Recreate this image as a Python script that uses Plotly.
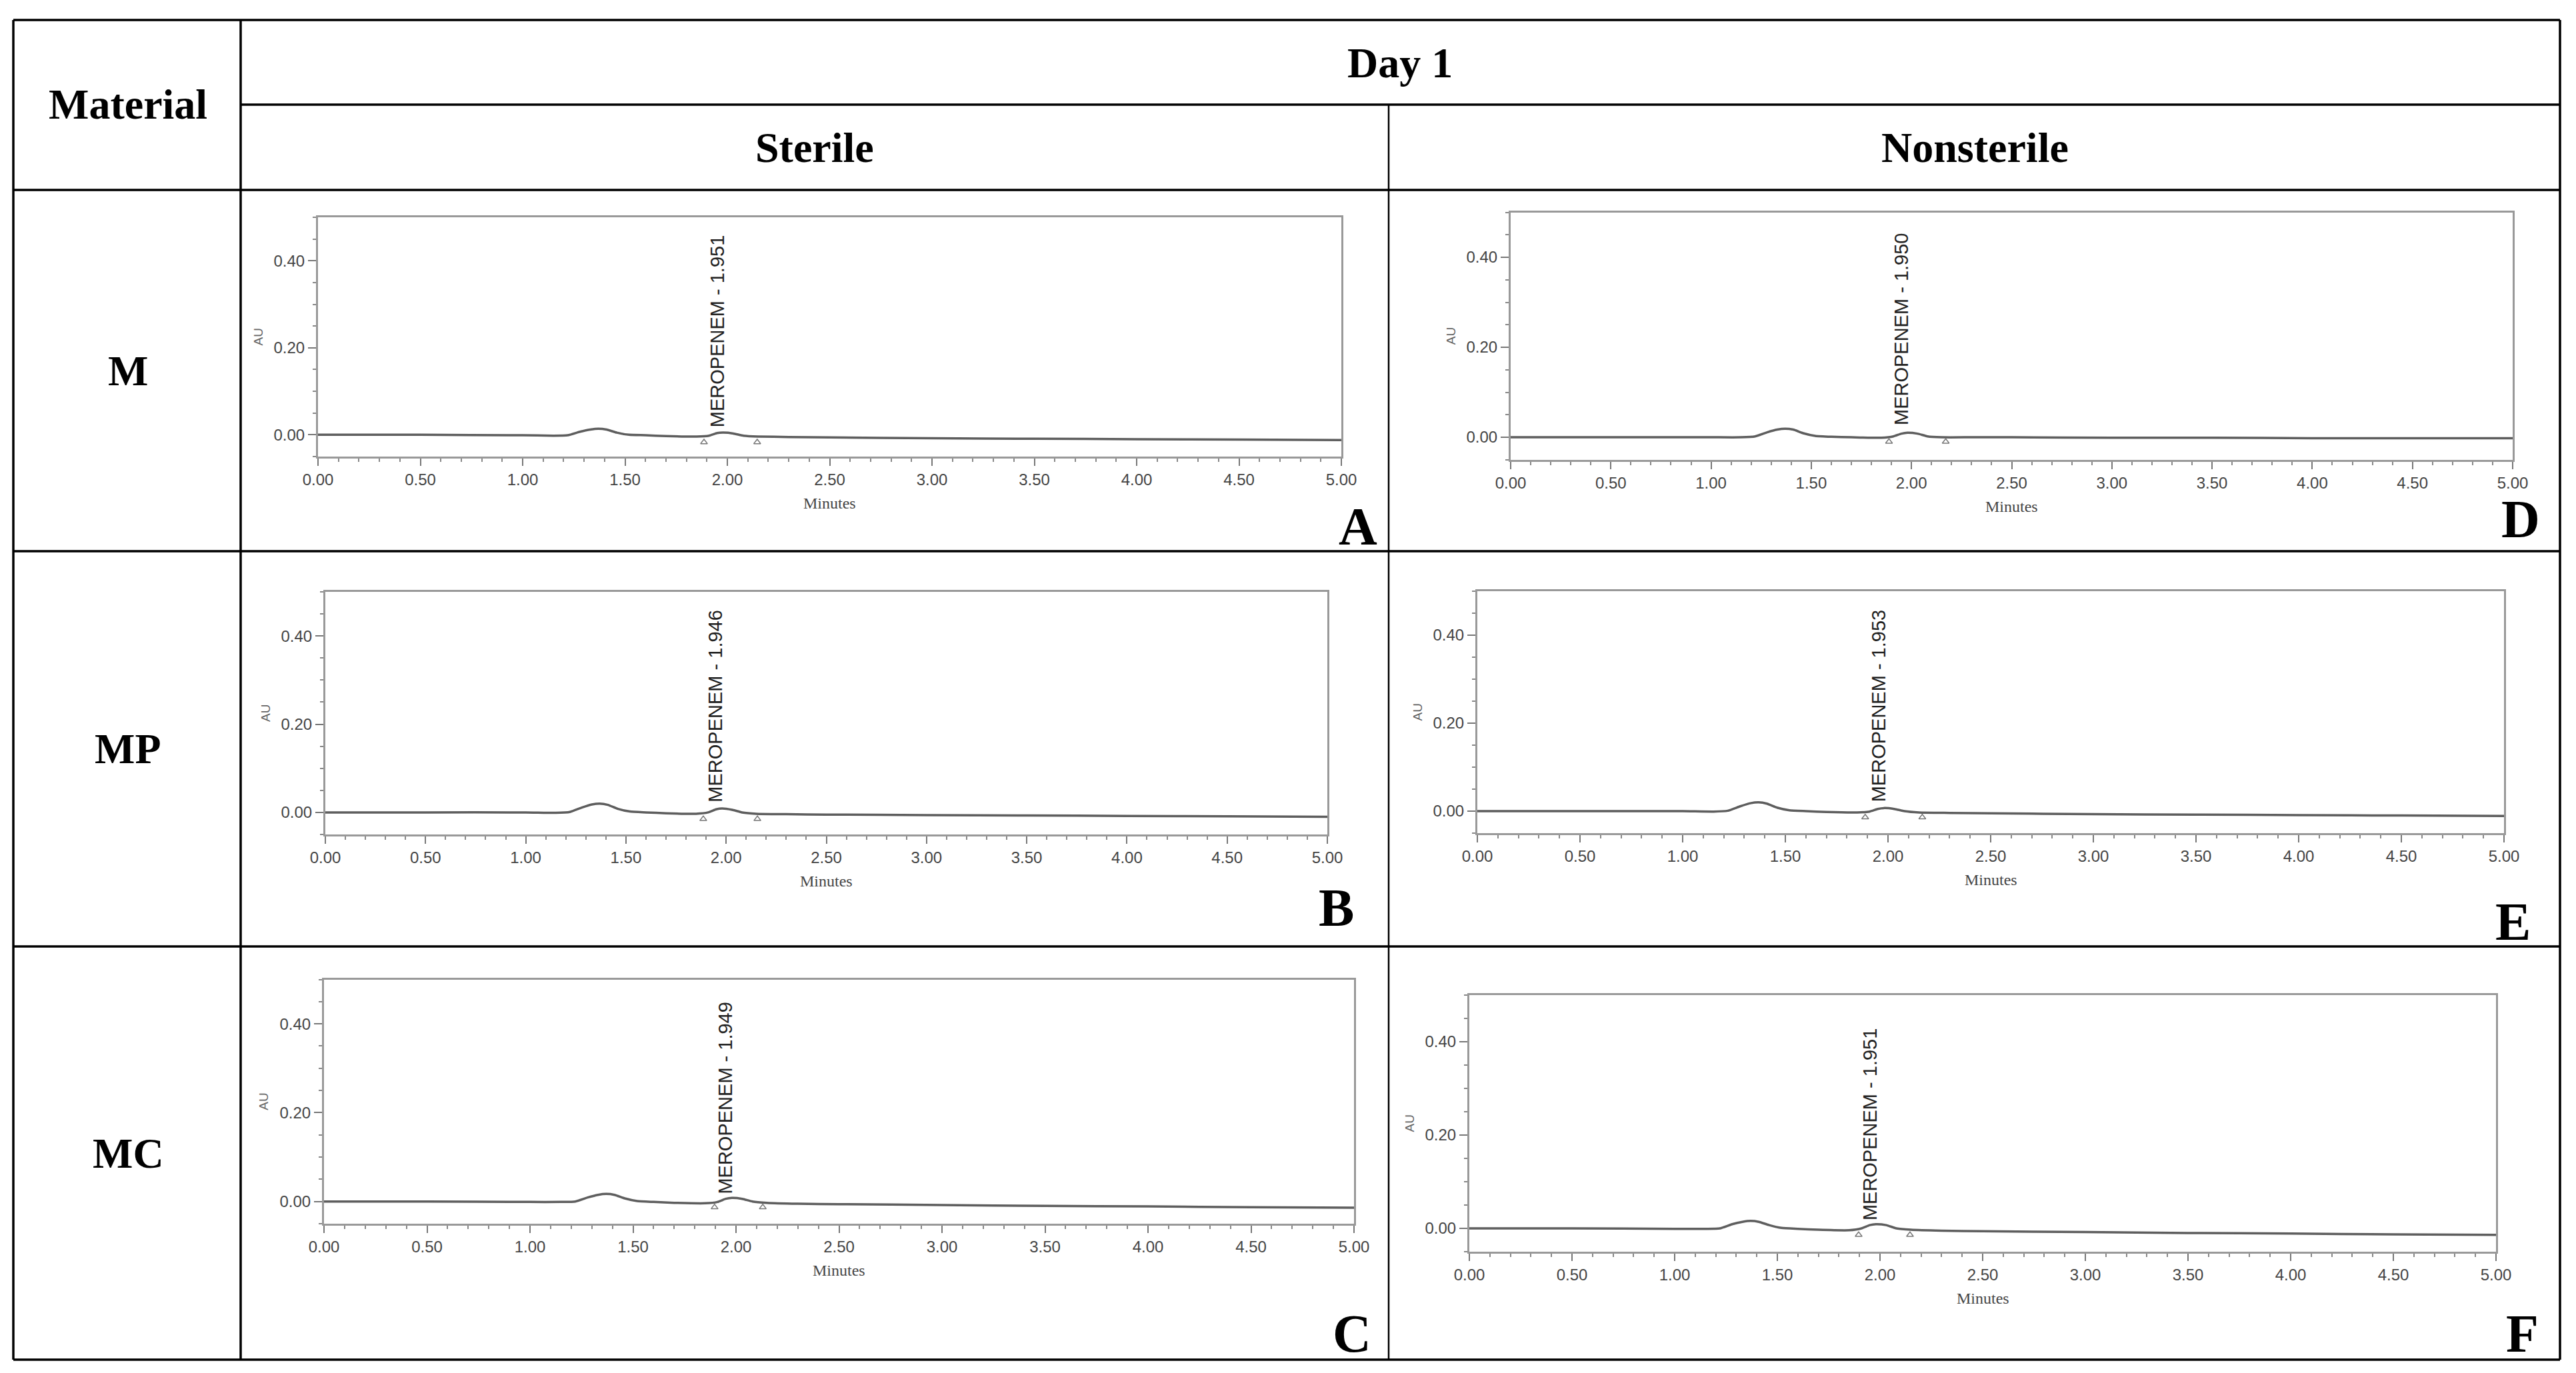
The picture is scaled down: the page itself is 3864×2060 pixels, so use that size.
import plotly.graph_objects as go

# ---------------- data ----------------
day_label = "Day 1"
material_header = "Material"
conditions = ["Sterile", "Nonsterile"]
materials = ["M", "MP", "MC"]
panel_letters = ["A", "B", "C", "D", "E", "F"]   # A-C sterile (M, MP, MC), D-F nonsterile

times = [0.00, 0.50, 1.00, 1.15, 1.22, 1.28, 1.33, 1.37, 1.41, 1.46, 1.52, 1.60, 1.70,
         1.85, 1.91, 1.95, 1.98, 2.03, 2.08, 2.15, 2.30, 2.50, 3.00, 3.50, 4.00, 4.50, 5.00]

au_A = [0.000, 0.000, -0.001, -0.002, -0.001, 0.007, 0.012, 0.014, 0.012, 0.005, 0.000, -0.001, -0.003,
        -0.004, -0.002, 0.004, 0.005, 0.003, -0.002, -0.004, -0.005, -0.006, -0.008, -0.009, -0.010, -0.011, -0.012]
au_B = [0.000, 0.000, 0.000, -0.001, 0.001, 0.011, 0.018, 0.020, 0.017, 0.008, 0.002, 0.000, -0.002,
        -0.003, 0.000, 0.007, 0.009, 0.006, 0.000, -0.003, -0.004, -0.005, -0.006, -0.007, -0.008, -0.009, -0.010]
au_C = [0.000, 0.000, -0.001, -0.001, 0.000, 0.009, 0.015, 0.017, 0.015, 0.007, 0.001, -0.001, -0.003,
        -0.004, -0.001, 0.006, 0.008, 0.006, 0.000, -0.003, -0.005, -0.006, -0.008, -0.010, -0.011, -0.013, -0.014]
au_D = [0.000, 0.000, 0.000, 0.000, 0.002, 0.011, 0.017, 0.019, 0.017, 0.009, 0.003, 0.001, 0.000,
        -0.001, 0.002, 0.008, 0.010, 0.008, 0.002, 0.000, 0.000, 0.000, -0.001, -0.001, -0.002, -0.002, -0.002]
au_E = [0.000, 0.000, 0.000, -0.001, 0.001, 0.011, 0.018, 0.020, 0.017, 0.008, 0.002, 0.000, -0.002,
        -0.003, -0.001, 0.005, 0.007, 0.005, 0.000, -0.003, -0.004, -0.005, -0.007, -0.008, -0.009, -0.010, -0.011]
au_F = [0.000, 0.000, -0.001, -0.001, 0.000, 0.009, 0.014, 0.016, 0.014, 0.007, 0.001, -0.001, -0.003,
        -0.004, 0.000, 0.007, 0.009, 0.007, 0.000, -0.003, -0.005, -0.006, -0.008, -0.010, -0.011, -0.013, -0.014]

retention_times = [1.951, 1.946, 1.949, 1.950, 1.953, 1.951]
label_base_au = [0.014, 0.020, 0.014, 0.024, 0.017, 0.014]
peak_start = [1.886, 1.886, 1.896, 1.888, 1.889, 1.896]
peak_end = [2.146, 2.156, 2.130, 2.171, 2.167, 2.146]
marker_au = [-0.017, -0.015, -0.013, -0.010, -0.014, -0.014]

x_tick_vals = [0.0, 0.5, 1.0, 1.5, 2.0, 2.5, 3.0, 3.5, 4.0, 4.5, 5.0]
x_tick_text = ["0.00", "0.50", "1.00", "1.50", "2.00", "2.50", "3.00", "3.50", "4.00", "4.50", "5.00"]
y_tick_vals = [0.0, 0.2, 0.4]
y_tick_text = ["0.00", "0.20", "0.40"]
x_title = "Minutes"
y_title = "AU"

series = [au_A, au_B, au_C, au_D, au_E, au_F]

# ---------------- layout geometry (pixels in the final screenshot) ----------------
W, H = 3864, 2060
OFF = 8   # page body margin offset
# plot areas: left, right, top, bottom
geo = [(477, 2012, 326, 685),
       (488, 1991, 888, 1252),
       (486, 2031, 1469.5, 1836),
       (2266, 3769, 318.5, 689.8),
       (2216, 3756, 887, 1250),
       (2204, 3744, 1493, 1878)]
letter_pos = [(2037, 790), (2004, 1362), (2028, 2001), (3781, 779), (3769, 1383), (3783, 2001)]


def px(x):
    return (x - OFF) / W


def py(y):
    return 1 - (y - OFF) / H


SERIF = "Liberation Serif, Times New Roman, serif"
SANS = "Liberation Sans, Arial, sans-serif"

fig = go.Figure()
layout = dict(width=W, height=H,
              margin=dict(l=0, r=0, t=0, b=0, pad=0, autoexpand=False),
              paper_bgcolor="white", plot_bgcolor="white", showlegend=False,
              template="none")
annotations = []
shapes = []

for i, (l, r, t, b) in enumerate(geo):
    n = "" if i == 0 else str(i + 1)
    xa, ya = "x" + n, "y" + n
    wpx, hpx = r - l, b - t
    layout["xaxis" + n] = dict(
        domain=[px(l), px(r)], range=[0, 5], anchor=ya, automargin=False,
        tickvals=x_tick_vals, ticktext=x_tick_text,
        ticks="outside", ticklen=11, tickwidth=2, tickcolor="#777",
        showline=True, linecolor="#999999", linewidth=3, mirror=True,
        showgrid=False, zeroline=False,
        tickfont=dict(family=SANS, size=24, color="#444"),
        minor=dict(dtick=0.1, ticks="outside", ticklen=5, tickwidth=1.5, tickcolor="#888",
                   showgrid=False),
    )
    layout["yaxis" + n] = dict(
        domain=[py(b), py(t)], range=[-0.05, 0.5], anchor=xa, automargin=False,
        tickvals=y_tick_vals, ticktext=y_tick_text,
        ticks="outside", ticklen=12, tickwidth=2, tickcolor="#777",
        showline=True, linecolor="#999999", linewidth=3, mirror=True,
        showgrid=False, zeroline=False,
        tickfont=dict(family=SANS, size=24, color="#444"),
        minor=dict(dtick=0.05, ticks="outside", ticklen=5, tickwidth=1.5, tickcolor="#888",
                   showgrid=False),
    )
    fig.add_trace(go.Scatter(x=times, y=series[i], mode="lines", xaxis=xa, yaxis=ya,
                             line=dict(color="#5e5e5e", width=3.5, shape="spline", smoothing=0.5),
                             hoverinfo="skip"))
    fig.add_trace(go.Scatter(x=[peak_start[i], peak_end[i]], y=[marker_au[i], marker_au[i]],
                             mode="markers", xaxis=xa, yaxis=ya,
                             marker=dict(symbol="triangle-up-open", size=9, color="#777",
                                         line=dict(width=1.5, color="#777")),
                             hoverinfo="skip"))
    annotations.append(dict(x=retention_times[i], y=label_base_au[i], xref=xa, yref=ya,
                            text=f"MEROPENEM - {retention_times[i]:.3f}", textangle=-90,
                            showarrow=False, xanchor="center", yanchor="bottom",
                            font=dict(family=SANS, size=29, color="#222")))
    annotations.append(dict(x=-90 / wpx, y=0.5, xref=xa + " domain", yref=ya + " domain",
                            text=y_title, textangle=-90, showarrow=False,
                            xanchor="center", yanchor="middle",
                            font=dict(family=SANS, size=19, color="#666")))
    annotations.append(dict(x=0.5, y=-70 / hpx, xref=xa + " domain", yref=ya + " domain",
                            text=x_title, showarrow=False, xanchor="center", yanchor="middle",
                            font=dict(family=SERIF, size=24, color="#444")))
    lx, ly = letter_pos[i]
    annotations.append(dict(x=px(lx), y=py(ly), xref="paper", yref="paper",
                            text=f"<b>{panel_letters[i]}</b>", showarrow=False,
                            xanchor="center", yanchor="middle",
                            font=dict(family=SERIF, size=80, color="black")))

# ---------------- table text ----------------
hdr_font = dict(family=SERIF, size=64, color="black")
annotations.append(dict(x=px(192), y=py(157), xref="paper", yref="paper", text=f"<b>{material_header}</b>",
                        showarrow=False, xanchor="center", yanchor="middle", font=hdr_font))
annotations.append(dict(x=px(2100), y=py(94), xref="paper", yref="paper", text=f"<b>{day_label}</b>",
                        showarrow=False, xanchor="center", yanchor="middle", font=hdr_font))
for cx, c in zip([1222, 2962], conditions):
    annotations.append(dict(x=px(cx), y=py(221), xref="paper", yref="paper", text=f"<b>{c}</b>",
                            showarrow=False, xanchor="center", yanchor="middle", font=hdr_font))
for cy, m in zip([556, 1123, 1730], materials):
    annotations.append(dict(x=px(192), y=py(cy), xref="paper", yref="paper", text=f"<b>{m}</b>",
                            showarrow=False, xanchor="center", yanchor="middle", font=hdr_font))

# ---------------- table lines ----------------
L, R, T, B = 20, 3840, 30, 2040


def hline(y, x0=L, x1=R, w=3.5):
    shapes.append(dict(type="line", xref="paper", yref="paper", x0=px(x0), x1=px(x1),
                       y0=py(y), y1=py(y), line=dict(color="black", width=w)))


def vline(x, y0=T, y1=B, w=3.5):
    shapes.append(dict(type="line", xref="paper", yref="paper", x0=px(x), x1=px(x),
                       y0=py(y0), y1=py(y1), line=dict(color="black", width=w)))


hline(T)
hline(157, x0=361)
hline(285)
hline(827)
hline(1420)
hline(B)
vline(L)
vline(361)
vline(2083, y0=157, w=2.5)
vline(R)

layout["annotations"] = annotations
layout["shapes"] = shapes
fig.update_layout(**layout)
fig.write_html("out.html")
